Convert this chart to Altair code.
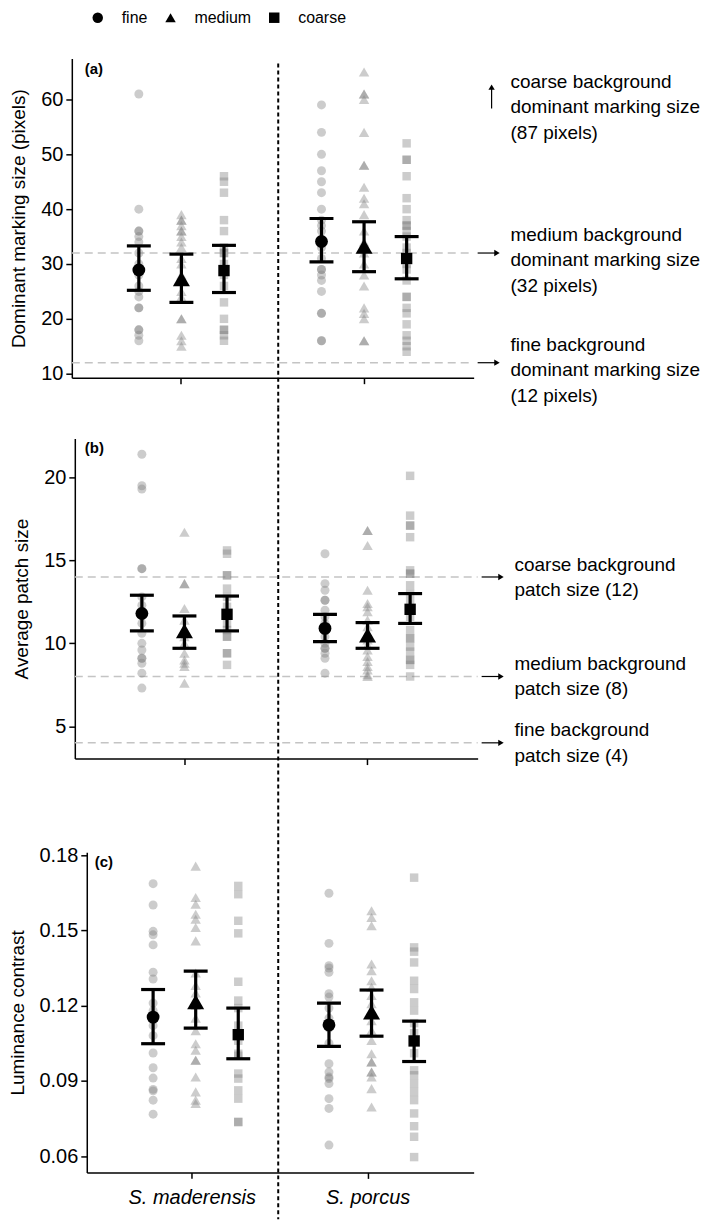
import altair as alt
import pandas as pd

FONT = "Liberation Sans"
SPECIES = ["S. maderensis", "S. porcus"]
BACKGROUNDS = ["fine", "medium", "coarse"]
SHAPES = ["circle", "triangle-up", "square"]

# ---------------- (a) dominant marking size (pixels) ----------------
A_MAD_FINE = [61, 40, 36, 36, 35, 34, 32, 30, 28, 26, 25, 24, 22, 22, 18, 18, 17, 16]
A_MAD_MEDIUM = [39, 38, 38, 37, 36, 36, 35, 34, 33, 31, 30, 28, 25, 24, 20, 20, 17, 16, 15]
A_MAD_COARSE = [46, 45, 43, 38, 36, 33, 32, 32, 30, 28, 26, 23, 20, 18, 18, 17, 16]
A_POR_FINE = [59, 54, 50, 47, 45, 43, 40, 38, 37, 36, 33, 31, 29, 29, 28, 27, 25, 21, 21, 16, 16]
A_POR_MEDIUM = [65, 61, 61, 60, 54, 48, 48, 44, 42, 41, 39, 36, 34, 32, 30, 28, 26, 22, 21, 20, 16, 16]
A_POR_COARSE = [52, 49, 49, 46, 42, 40, 38, 37, 37, 36, 35, 33, 32, 30, 29, 27, 24, 24, 22, 21, 19, 17, 16, 15, 14]
A_MEAN = [[28.9, 27.3, 28.8], [34.1, 33.2, 31.0]]
A_LOW = [[25.2, 23.0, 24.8], [30.4, 28.6, 27.3]]
A_HIGH = [[33.3, 31.8, 33.4], [38.3, 37.7, 35.0]]
A_REFS = [32, 12]
A_REF_LABELS = ["medium background\ndominant marking size\n(32 pixels)",
                "fine background\ndominant marking size\n(12 pixels)"]
A_OFFSCALE_LABEL = ["coarse background", "dominant marking size", "(87 pixels)"]

# ---------------- (b) average patch size ----------------
B_MAD_FINE = [21.4, 19.5, 19.3, 14.5, 14.5, 12.8, 12.3, 11.8, 11.2, 10.6, 10.0, 9.6, 9.1, 9.1, 8.8, 8.2, 7.3]
B_MAD_MEDIUM = [16.7, 13.6, 13.6, 12.1, 11.4, 10.9, 10.4, 10.0, 9.4, 9.0, 8.8, 8.6, 7.6]
B_MAD_COARSE = [15.6, 15.4, 14.1, 14.1, 13.3, 12.8, 12.2, 11.7, 11.2, 10.8, 10.4, 10.4, 9.4, 9.4, 8.7]
B_POR_FINE = [15.4, 13.6, 13.2, 12.6, 12.6, 12.0, 11.6, 11.2, 10.8, 10.4, 10.0, 9.7, 9.7, 9.4, 9.1, 8.2]
B_POR_MEDIUM = [16.8, 16.8, 15.9, 13.2, 12.4, 12.2, 11.9, 11.4, 11.0, 10.6, 10.2, 9.9, 9.6, 9.2, 8.9, 8.6, 8.4, 8.1, 8.0]
B_POR_COARSE = [20.1, 17.7, 17.1, 17.1, 16.4, 14.4, 14.2, 14.2, 13.5, 13.0, 12.5, 11.6, 10.8, 10.3, 10.3, 9.8, 9.5, 9.0, 9.0, 8.7, 8.0]
B_MEAN = [[11.8, 10.75, 11.75], [10.9, 10.5, 12.05]]
B_LOW = [[10.75, 9.7, 10.75], [10.1, 9.7, 11.2]]
B_HIGH = [[12.9, 11.65, 12.85], [11.75, 11.25, 13.0]]
B_REFS = [14, 8, 4]
B_REF_LABELS = ["coarse background\npatch size (12)",
                "medium background\npatch size (8)",
                "fine background\npatch size (4)"]

# ---------------- (c) luminance contrast ----------------
C_MAD_FINE = [0.1686, 0.1601, 0.1496, 0.1482, 0.1442, 0.1333, 0.1306, 0.1210, 0.1180, 0.1120, 0.1080,
              0.1011, 0.0952, 0.0911, 0.0866, 0.0860, 0.0823, 0.0767]
C_MAD_MEDIUM = [0.1756, 0.1631, 0.1604, 0.1564, 0.1544, 0.1511, 0.1458, 0.1330, 0.1280, 0.1250, 0.1200,
                0.1150, 0.1100, 0.1048, 0.1022, 0.0982, 0.0982, 0.0915, 0.0856, 0.0823, 0.0810]
C_MAD_COARSE = [0.1677, 0.1644, 0.1538, 0.1488, 0.1295, 0.1220, 0.1190, 0.1120, 0.1060, 0.1008, 0.1000,
                0.0929, 0.0909, 0.0862, 0.0829, 0.0737, 0.0735]
C_POR_FINE = [0.1648, 0.1448, 0.1359, 0.1350, 0.1333, 0.1247, 0.1234, 0.1190, 0.1150, 0.1110, 0.1050,
              0.0968, 0.0935, 0.0915, 0.0909, 0.0889, 0.0829, 0.0790, 0.0644]
C_POR_MEDIUM = [0.1578, 0.1551, 0.1518, 0.1366, 0.1339, 0.1299, 0.1273, 0.1240, 0.1207, 0.1170, 0.1140,
                0.1101, 0.1061, 0.1008, 0.0975, 0.0975, 0.0935, 0.0935, 0.0915, 0.0869, 0.0796]
C_POR_COARSE = [0.1710, 0.1432, 0.1415, 0.1372, 0.1299, 0.1266, 0.1213, 0.1180, 0.1130, 0.1090, 0.1010,
                0.0942, 0.0922, 0.0889, 0.0856, 0.0823, 0.0770, 0.0719, 0.0677, 0.0596]
C_MEAN = [[0.1154, 0.1215, 0.1084], [0.1123, 0.1174, 0.1059]]
C_LOW = [[0.1048, 0.1110, 0.0988], [0.1037, 0.1078, 0.0977]]
C_HIGH = [[0.1264, 0.1337, 0.1190], [0.1210, 0.1262, 0.1138]]

RAW_SIZE = "datum.background === 'medium' ? 110 : (datum.background === 'fine' ? 81 : 72)"
MEAN_SIZE = "datum.background === 'medium' ? 290 : (datum.background === 'fine' ? 165 : 130)"


def raw_table(groups):
    rows = []
    for i, sp in enumerate(SPECIES):
        for j, bg in enumerate(BACKGROUNDS):
            for v in groups[i][j]:
                rows.append({"species": sp, "background": bg, "value": v})
    return pd.DataFrame(rows)


def summary_table(mean, low, high):
    rows = []
    for i, sp in enumerate(SPECIES):
        for j, bg in enumerate(BACKGROUNDS):
            rows.append({"species": sp, "background": bg,
                         "mean": mean[i][j], "low": low[i][j], "high": high[i][j]})
    return pd.DataFrame(rows)


DUMMY = pd.DataFrame({"k": [0]})
SHAPE_SCALE = alt.Scale(domain=BACKGROUNDS, range=SHAPES)


def panel(raw, summ, *, width, height, x_start, y_title, y_domain, y_ticks, y_format, tag, tag_x,
          sep_x, sep_top, sep_bottom, x_labels, refs=None, ref_labels=None, ref_dy=0,
          extra=()):
    W, H = width, height
    x = alt.X("species:N",
              scale=alt.Scale(domain=SPECIES, paddingInner=0, paddingOuter=0.1, range=[x_start, W]),
              axis=alt.Axis(title=None, labels=x_labels, labelFontStyle="italic", labelAngle=0,
                            labelFontSize=20, labelPadding=9))
    xo = alt.XOffset("background:N",
                     scale=alt.Scale(domain=BACKGROUNDS, paddingInner=0, paddingOuter=0.645))
    ysc = alt.Scale(domain=y_domain, nice=False, zero=False)
    yax = alt.Axis(title=y_title, values=y_ticks, format=y_format, offset=-x_start)

    def Y(field):
        return alt.Y(field, type="quantitative", scale=ysc, axis=yax)

    layers = []
    if refs is not None:
        ref_df = pd.DataFrame({"ref": refs, "label": ref_labels})
        layers.append(alt.Chart(ref_df).mark_rule(color="#c4c4c4", strokeDash=[8, 5], strokeWidth=1.5)
                      .encode(x=alt.value(x_start), x2=alt.value(W), y=Y("ref")))
    layers.append(alt.Chart(DUMMY).mark_rule(color="black", strokeDash=[4, 3], strokeWidth=2)
                  .encode(x=alt.value(sep_x), y=alt.value(sep_top), y2=alt.value(sep_bottom)))
    layers.append(alt.Chart(raw).transform_calculate(rsize=RAW_SIZE)
                  .mark_point(filled=True, color="#7f7f7f", opacity=0.4)
                  .encode(x=x, xOffset=xo, y=Y("value"),
                          shape=alt.Shape("background:N", scale=SHAPE_SCALE, legend=None),
                          size=alt.Size("rsize:Q", scale=None)))
    layers.append(alt.Chart(summ).mark_rule(color="black", strokeWidth=3.2)
                  .encode(x=x, xOffset=xo, y=Y("low"), y2=alt.Y2("high")))
    for f in ["low", "high"]:
        layers.append(alt.Chart(summ).mark_tick(color="black", orient="horizontal", size=24,
                                                 thickness=3.2, opacity=1)
                      .encode(x=x, xOffset=xo, y=Y(f)))
    layers.append(alt.Chart(summ).transform_calculate(msize=MEAN_SIZE)
                  .mark_point(filled=True, color="black", opacity=1)
                  .encode(x=x, xOffset=xo, y=Y("mean"),
                          shape=alt.Shape("background:N", scale=SHAPE_SCALE, legend=None),
                          size=alt.Size("msize:Q", scale=None)))
    layers.append(alt.Chart(DUMMY).mark_text(text=tag, fontWeight="bold", fontSize=15, align="left",
                                             baseline="middle", font=FONT, color="black")
                  .encode(x=alt.value(tag_x), y=alt.value(10)))
    if refs is not None:
        layers.append(alt.Chart(ref_df).mark_rule(color="black", strokeWidth=1.2)
                      .encode(x=alt.value(W + 4), x2=alt.value(W + 23), y=Y("ref")))
        layers.append(alt.Chart(ref_df).mark_point(shape="triangle-right", filled=True, color="black",
                                                   size=40, opacity=1)
                      .encode(x=alt.value(W + 23.4), y=Y("ref")))
        layers.append(alt.Chart(ref_df).mark_text(align="left", baseline="top", fontSize=19,
                                                  lineBreak="\n", lineHeight=25.5, dy=ref_dy,
                                                  font=FONT, color="black")
                      .encode(x=alt.value(W + 37), y=Y("ref"), text="label:N"))
    layers.extend(extra)
    return alt.layer(*layers).properties(width=W, height=H)


def spacer(h):
    return (alt.Chart(DUMMY).mark_rule(opacity=0)
            .encode(x=alt.value(0), y=alt.value(0), y2=alt.value(h))
            .properties(width=400, height=h))


# ---------------- legend row ----------------
legend_def = alt.Legend(title=None, orient="none", legendX=18, legendY=0, direction="horizontal",
                        labelFontSize=16, labelFont=FONT, labelColor="black", symbolSize=110,
                        labelOffset=16, columnPadding=15, padding=0, symbolFillColor="black",
                        symbolStrokeColor="black", symbolOpacity=1, symbolStrokeWidth=0)
legend_row = alt.layer(
    alt.Chart(pd.DataFrame({"background": BACKGROUNDS}))
    .mark_point(filled=True, color="black", opacity=0)
    .encode(shape=alt.Shape("background:N", scale=SHAPE_SCALE, legend=legend_def)),
    alt.Chart(DUMMY).mark_rule(opacity=0)
    .encode(x=alt.value(0), y=alt.value(0), y2=alt.value(49)),
).properties(width=400, height=49)

W_A, H_A = 403, 320
offscale = [
    alt.Chart(DUMMY).mark_rule(color="black", strokeWidth=1.2)
    .encode(x=alt.value(W_A + 18), y=alt.value(30), y2=alt.value(50)),
    alt.Chart(DUMMY).mark_point(shape="triangle-up", filled=True, color="black", size=40, opacity=1)
    .encode(x=alt.value(W_A + 18), y=alt.value(28.6)),
    alt.Chart(DUMMY).mark_text(text=A_OFFSCALE_LABEL, align="left", baseline="top", fontSize=19,
                               lineHeight=25.5, font=FONT, color="black")
    .encode(x=alt.value(W_A + 37), y=alt.value(14.5)),
]

SEP_X = 207

pa = panel(raw_table([[A_MAD_FINE, A_MAD_MEDIUM, A_MAD_COARSE],
                      [A_POR_FINE, A_POR_MEDIUM, A_POR_COARSE]]),
           summary_table(A_MEAN, A_LOW, A_HIGH),
           width=W_A, height=H_A, x_start=0, y_title="Dominant marking size (pixels)",
           y_domain=[9.27, 67.45], y_ticks=[10, 20, 30, 40, 50, 60], y_format="d",
           tag="(a)", tag_x=13, sep_x=SEP_X, sep_top=5, sep_bottom=H_A + 30, x_labels=False,
           refs=A_REFS, ref_labels=A_REF_LABELS, ref_dy=-27, extra=offscale)

W_B, H_B = 407, 321
pb = panel(raw_table([[B_MAD_FINE, B_MAD_MEDIUM, B_MAD_COARSE],
                      [B_POR_FINE, B_POR_MEDIUM, B_POR_COARSE]]),
           summary_table(B_MEAN, B_LOW, B_HIGH),
           width=W_B, height=H_B, x_start=3, y_title="Average patch size",
           y_domain=[3.05, 22.35], y_ticks=[5, 10, 15, 20], y_format="d",
           tag="(b)", tag_x=13, sep_x=SEP_X, sep_top=-31, sep_bottom=H_B + 47, x_labels=False,
           refs=B_REFS, ref_labels=B_REF_LABELS, ref_dy=-21.5)

W_C, H_C = 403, 321
pc = panel(raw_table([[C_MAD_FINE, C_MAD_MEDIUM, C_MAD_COARSE],
                      [C_POR_FINE, C_POR_MEDIUM, C_POR_COARSE]]),
           summary_table(C_MEAN, C_LOW, C_HIGH),
           width=W_C, height=H_C, x_start=15, y_title="Luminance contrast",
           y_domain=[0.0535, 0.1811], y_ticks=[0.06, 0.09, 0.12, 0.15, 0.18], y_format=".2f",
           tag="(c)", tag_x=23, sep_x=SEP_X, sep_top=-47, sep_bottom=H_C + 47, x_labels=True)

chart = (
    alt.vconcat(legend_row, pa, spacer(61), pb, spacer(94), pc, spacing=0, bounds="flush")
    .resolve_scale(shape="independent", x="independent", y="independent")
    .properties(padding=0)
    .configure_view(stroke=None)
    .configure_axis(domainColor="black", domainWidth=1.5, tickColor="black", tickWidth=1.5,
                    tickSize=6, labelColor="black", titleColor="black", labelFont=FONT,
                    titleFont=FONT, labelFontSize=20, titleFontSize=19, titleFontWeight="normal",
                    grid=False, labelPadding=3, titlePadding=12)
    .configure_legend(labelFont=FONT)
)

chart.save("out.html", embed_options={"renderer": "svg", "actions": False})
